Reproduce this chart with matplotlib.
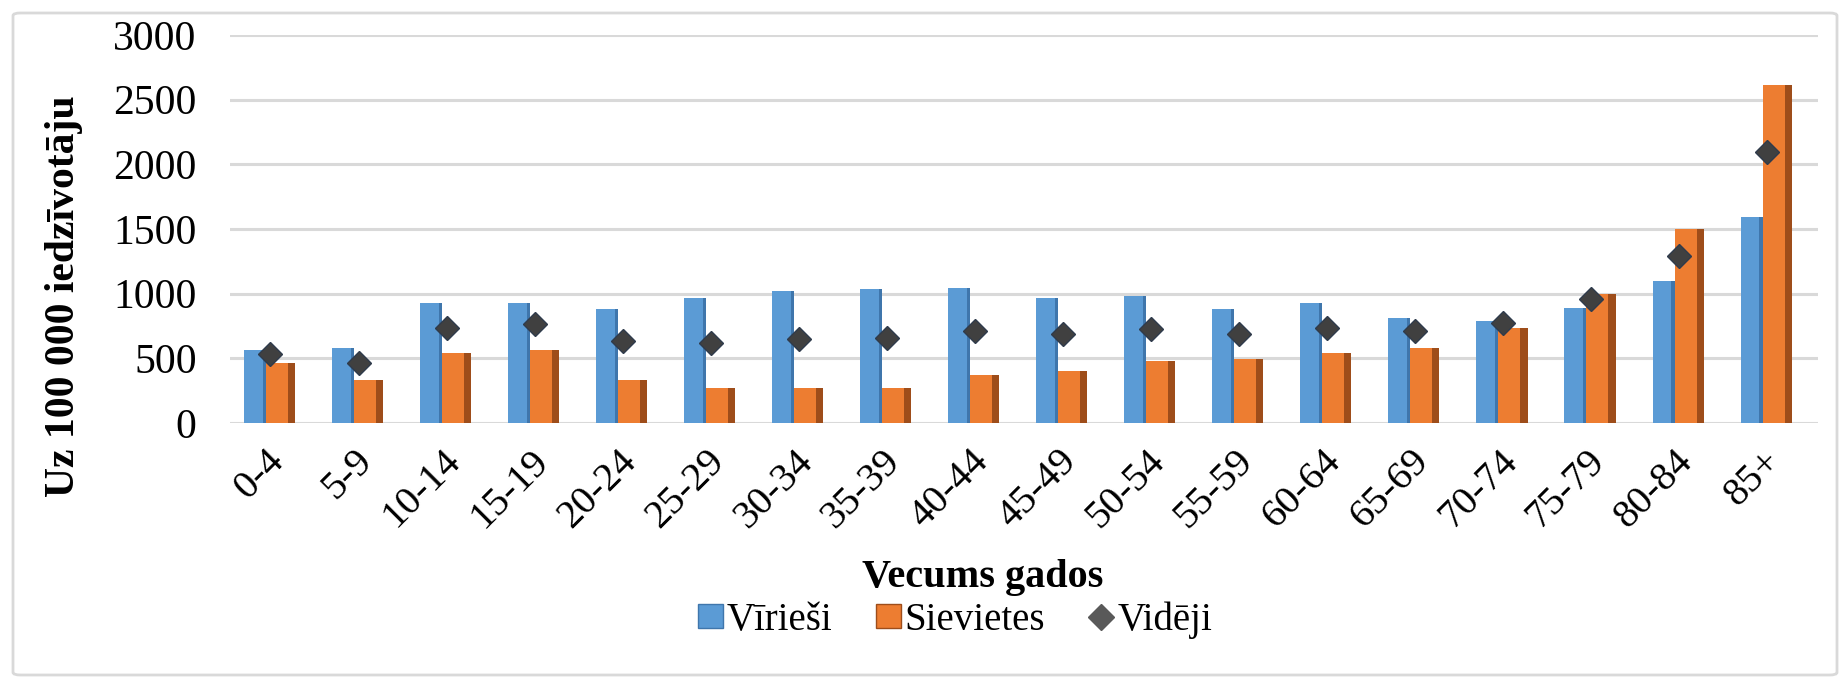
import matplotlib.pyplot as plt
import numpy as np
from matplotlib.patches import FancyBboxPatch
from matplotlib.lines import Line2D
from matplotlib.patches import Patch

plt.rcParams['font.family'] = ['Liberation Serif', 'DejaVu Serif']

age_groups = ['0-4', '5-9', '10-14', '15-19', '20-24', '25-29', '30-34', '35-39', '40-44',
              '45-49', '50-54', '55-59', '60-64', '65-69', '70-74', '75-79', '80-84', '85+']
men = [568, 581, 930, 930, 878, 969, 1021, 1034, 1047, 969, 982, 878, 930, 814, 788, 891, 1098, 1589]
women = [465, 336, 543, 568, 336, 271, 271, 271, 375, 400, 478, 491, 543, 581, 736, 995, 1499, 2610]
average = [530, 465, 736, 762, 633, 620, 646, 659, 711, 685, 724, 685, 736, 711, 775, 956, 1292, 2093]
y_ticks = [0, 500, 1000, 1500, 2000, 2500, 3000]

blue = '#5B9BD5'
blue_side = '#3F76AC'
orange = '#ED7D31'
orange_side = '#9E4D1A'
dark = '#404040'

fig = plt.figure(figsize=(18.41, 6.78), dpi=100)

# outer chart border
border = FancyBboxPatch((13 / 1841, 3 / 678), 1824 / 1841, 662 / 678,
                        boxstyle='round,pad=0,rounding_size=0.004',
                        transform=fig.transFigure, fill=False,
                        edgecolor='#D9D9D9', linewidth=2)
fig.patches.append(border)

ax = fig.add_axes([230 / 1841, 1 - 423 / 678, (1818 - 230) / 1841, (423 - 35) / 678])

x = np.arange(len(age_groups))
wb = 0.25
wo = 0.33
ax.bar(x - wb / 2, men, wb, color=blue, linewidth=0, zorder=3)
ax.bar(x - 0.02, men, 0.04, color=blue_side, linewidth=0, zorder=3)
ax.bar(x + wo / 2, women, wo, color=orange, linewidth=0, zorder=3)
ax.bar(x + wo - 0.04, women, 0.08, color=orange_side, linewidth=0, zorder=3)
ax.plot(x + 0.05, average, linestyle='none', marker='D', markersize=12,
        color=dark, markeredgecolor='#2F3B4C', zorder=4)

ax.set_ylim(0, 3000)
ax.set_xlim(-0.41, 17.63)
ax.set_yticks(y_ticks)
ax.set_yticklabels([str(v) for v in y_ticks], fontsize=30)
ax.set_xticks(x)
ax.set_xticklabels(age_groups, rotation=45, ha='right', rotation_mode='anchor', fontsize=29)
ax.tick_params(axis='both', length=0)
ax.tick_params(axis='y', pad=24)
ax.tick_params(axis='x', pad=14)
ax.grid(axis='y', color='#D9D9D9', linewidth=2.2, zorder=0)
for s in ax.spines.values():
    s.set_visible(False)

fig.text(64 / 1841, 1 - 296 / 678, 'Uz 100 000 iedzīvotāju', rotation=90,
         fontsize=30, fontweight='bold', ha='center', va='center')
fig.text(983 / 1841, 1 - 577 / 678, 'Vecums gados', fontsize=29,
         fontweight='bold', ha='center', va='center')

handles = [Patch(facecolor=blue, edgecolor=blue_side),
           Patch(facecolor=orange, edgecolor=orange_side),
           Line2D([], [], linestyle='none', marker='D', markersize=13, color='#595959')]
fig.legend(handles, ['Vīrieši', 'Sievietes', 'Vidēji'], loc='center',
           bbox_to_anchor=(955 / 1841, 1 - 620 / 678), ncol=3, frameon=False,
           prop={'family': 'Liberation Serif', 'size': 28},
           handlelength=0.65, handleheight=0.6, handletextpad=0.1,
           columnspacing=1.1, borderpad=0, borderaxespad=0)

fig.savefig('out.png', dpi=100)
